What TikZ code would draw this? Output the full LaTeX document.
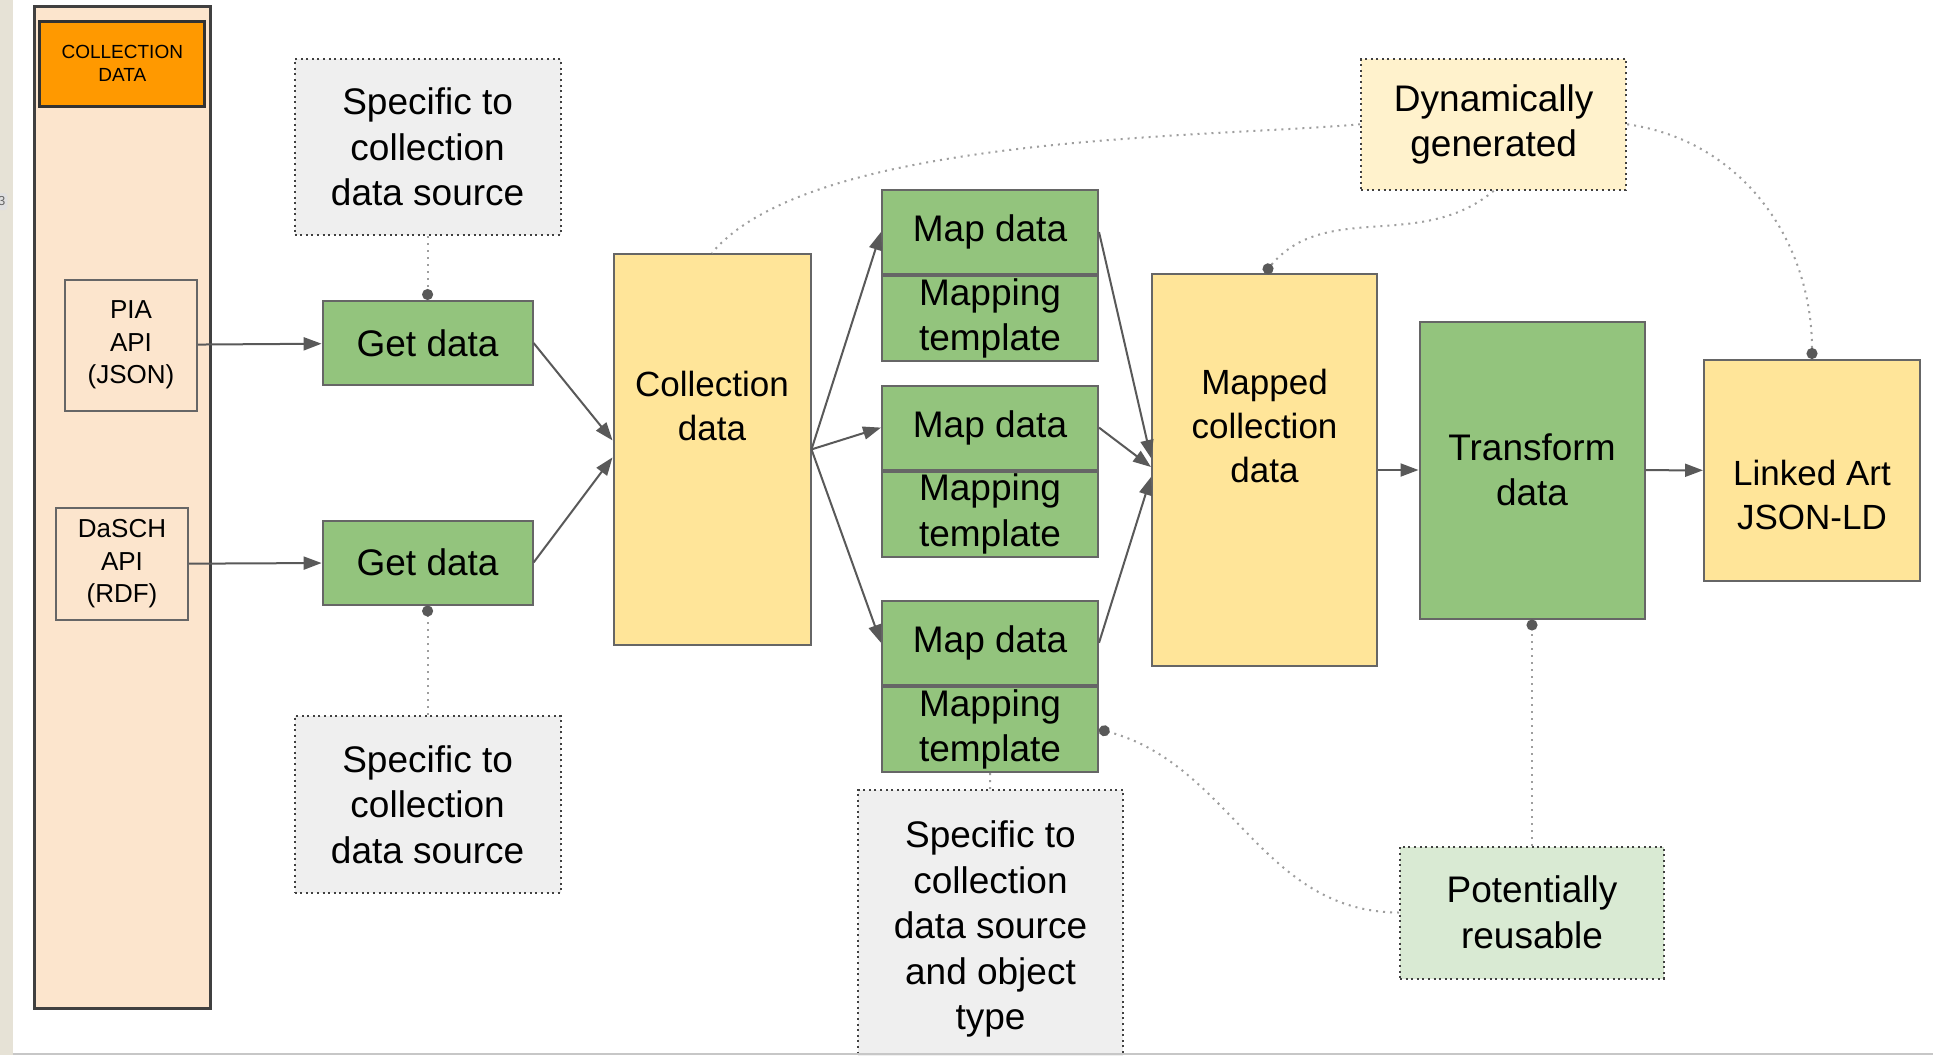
\documentclass[tikz,border=0pt]{standalone}
\usepackage{fontspec}
\setmainfont{Liberation Sans}
\usetikzlibrary{arrows.meta}
\usetikzlibrary{positioning}

\definecolor{stepgreen}{HTML}{93C47D}
\definecolor{datayellow}{HTML}{FFE599}
\definecolor{panelpeach}{HTML}{FCE5CD}
\definecolor{badgeorange}{HTML}{FF9900}
\definecolor{notegray}{HTML}{EFEFEF}
\definecolor{noteyellow}{HTML}{FFF2CC}
\definecolor{notegreen}{HTML}{D9EAD3}
\definecolor{edgegray}{HTML}{666666}
\definecolor{linkgray}{HTML}{9E9E9E}
\definecolor{stripbeige}{HTML}{E6E2D6}

\begin{document}
\begin{tikzpicture}[
		x=1pt, y=-1pt,
		node distance=0pt,
		box/.style={draw=edgegray, line width=2pt, inner sep=0pt, align=center, font=\fontsize{37pt}{45.5pt}\selectfont},
		stepbox/.style={box, fill=stepgreen},
		databox/.style={box, fill=datayellow, font=\fontsize{35pt}{44pt}\selectfont},
		notebox/.style={box, draw=black!75, dash pattern=on 2pt off 3.6pt},
		sourcebox/.style={draw=edgegray, line width=2pt, inner sep=0pt, align=center, font=\fontsize{26pt}{32.5pt}\selectfont},
		arrow/.style={line width=2pt, draw=black!65, -{Triangle[length=18pt, width=13pt]}},
		link/.style={line width=2pt, draw=linkgray, dash pattern=on 2pt off 5pt},
		dotlink/.style={link, -{Circle[length=11pt, color=black!65]}},
	]
	\useasboundingbox (0,0) rectangle (1933,1055);
	\fill[white] (0,0) rectangle (1933,1055);
	\fill[stripbeige] (0,0) rectangle (12.7,1055);
	\node[fill=black!12, rounded corners=3pt, inner sep=2pt, minimum height=17pt, text=black!60, font=\fontsize{13pt}{13pt}\selectfont, anchor=east] (slidetag) at (7.5,201.5) {3};

	\node[draw=black!75, line width=3pt, fill=panelpeach, minimum width=176pt, minimum height=1002pt] (panel) at (122,507) {};
	\node[draw=black!80, line width=3pt, fill=badgeorange, minimum width=165pt, minimum height=85pt, inner sep=0pt, align=center, font=\fontsize{19pt}{22.5pt}\selectfont] (badge) at (122.3,63.5) {COLLECTION\\DATA};
	\node[sourcebox, minimum width=132pt, minimum height=131pt] (pia) at (131,345) {PIA\\API\\(JSON)};
	\node[sourcebox, minimum width=132pt, minimum height=112pt] (dasch) at (122,564) {DaSCH\\API\\(RDF)};

	\node[stepbox, minimum width=210pt, minimum height=84pt] (get1) at (427.6,343) {Get data};
	\node[stepbox, minimum width=210pt, minimum height=84pt] (get2) at (427.6,562.5) {Get data};
	\node[notebox, fill=notegray, minimum width=266pt, minimum height=176pt] (spec1) at (427.6,147) {Specific to\\collection\\data source};
	\node[notebox, fill=notegray, minimum width=266pt, minimum height=177pt] (spec2) at (427.6,804.5) {Specific to\\collection\\data source};

	\node[databox, minimum width=197pt, minimum height=391pt] (coll) at (712,449.4) {Collection\\data\\~\\~};

	\node[stepbox, minimum width=216pt, minimum height=84pt] (map1) at (990,232) {Map data};
	\node[stepbox, minimum width=216pt, minimum height=85pt, below=of map1] (tmpl1) {Mapping\\template};
	\node[stepbox, minimum width=216pt, minimum height=84pt] (map2) at (990,427.6) {Map data};
	\node[stepbox, minimum width=216pt, minimum height=85pt, below=of map2] (tmpl2) {Mapping\\template};
	\node[stepbox, minimum width=216pt, minimum height=84pt] (map3) at (990,642.8) {Map data};
	\node[stepbox, minimum width=216pt, minimum height=85pt, below=of map3] (tmpl3) {Mapping\\template};
	\node[notebox, fill=notegray, minimum width=265pt, minimum height=278pt] (spec3) at (990.5,929) {Specific to\\collection\\data source\\and object\\type};

	\node[databox, minimum width=225pt, minimum height=392pt] (mapped) at (1264.5,470) {Mapped\\collection\\data\\~\\~};
	\node[stepbox, minimum width=225pt, minimum height=297pt] (transform) at (1532,470) {Transform\\data};
	\node[databox, minimum width=216pt, minimum height=221pt] (linked) at (1812,470.5) {\strut\\Linked Art\\JSON-LD};

	\node[notebox, fill=noteyellow, minimum width=265pt, minimum height=131pt] (dyn) at (1493.7,124.3) {Dynamically\\generated};
	\node[notebox, fill=notegreen, minimum width=264pt, minimum height=132pt] (pot) at (1532,912.5) {Potentially\\reusable};

	\draw[arrow] (pia) -- (get1);
	\draw[arrow] (dasch) -- (get2);
	\draw[arrow] (get1.east) -- ([yshift=9pt]coll.west);
	\draw[arrow] (get2.east) -- ([yshift=-8pt]coll.west);
	\draw[arrow] (coll.east) -- (map1.west);
	\draw[arrow] (coll.east) -- (map2.west);
	\draw[arrow] (coll.east) -- (map3.west);
	\draw[arrow] (map1.east) -- ([yshift=12pt]mapped.west);
	\draw[arrow] (map2.east) -- ([yshift=3pt]mapped.west);
	\draw[arrow] (map3.east) -- ([yshift=-7pt]mapped.west);
	\draw[arrow] (mapped) -- (transform);
	\draw[arrow] (transform) -- (linked);

	\draw[dotlink] (spec1) -- (get1);
	\draw[dotlink] (spec2) -- (get2);
	\draw[link] (spec3) -- (tmpl3);
	\draw[link] (dyn.west) to[out=185, in=50, looseness=0.6] (coll.north);
	\draw[dotlink] (dyn.south) to[out=220, in=50] (mapped.north);
	\draw[dotlink] (dyn.east) to[out=-8, in=90] (linked.north);
	\draw[dotlink] (pot.west) to[out=180, in=-15] (tmpl3.east);
	\draw[dotlink] (pot) -- (transform);

	\draw[line width=2pt, draw=black!22] (12.7,1054) -- (1933,1054);
\end{tikzpicture}
\end{document}
